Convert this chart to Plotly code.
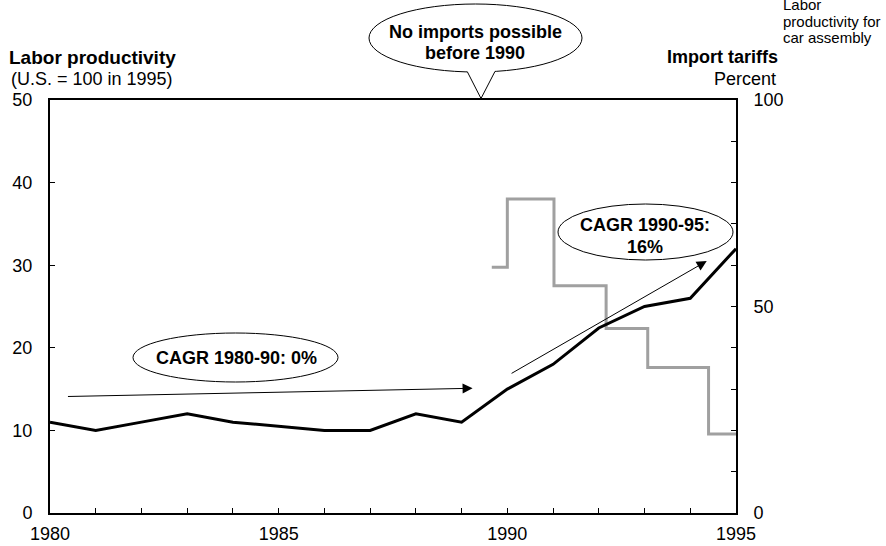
import plotly.graph_objects as go

# ---------------- data ----------------
years = [1980, 1981, 1982, 1983, 1984, 1985, 1986, 1987, 1988, 1989,
         1990, 1991, 1992, 1993, 1994, 1995]
productivity = [11, 10, 11, 12, 11, 10.5, 10, 10, 12, 11,
                15, 18, 22.4, 25, 26, 32]

tariff_dates = [1989.66, 1990.0, 1991.02, 1992.16, 1993.07, 1994.4, 1995.0]
tariff_pct = [59.5, 76, 55, 44.7, 35.2, 19.1, 19.1]

x_tick_years = list(range(1980, 1996))
x_tick_text = [str(y) if y % 5 == 0 else "" for y in x_tick_years]
left_ticks = [0, 10, 20, 30, 40, 50]
right_ticks = list(range(0, 101, 10))
right_tick_text = [str(v) if v % 50 == 0 else "" for v in right_ticks]

# ---------------- layout geometry ----------------
W, H = 886, 546
L, R, T, B = 50, 150, 100, 33
PW, PH = W - L - R, H - T - B
FONT = "Liberation Sans, Arial, sans-serif"


def px(x):
    return (x - L) / PW


def py(y):
    return (H - B - y) / PH


fig = go.Figure()

fig.add_trace(go.Scatter(
    x=tariff_dates, y=tariff_pct, mode="lines", line_shape="hv",
    line=dict(color="#a0a0a0", width=3), yaxis="y", name="Import tariffs",
    showlegend=False, hoverinfo="skip"))

fig.add_trace(go.Scatter(
    x=years, y=productivity, mode="lines",
    line=dict(color="black", width=3), yaxis="y2",
    name="Labor productivity for car assembly",
    showlegend=False, hoverinfo="skip"))

axis_font = dict(family=FONT, size=18, color="black")

fig.update_layout(
    width=W, height=H,
    margin=dict(l=L, r=R, t=T, b=B, autoexpand=False),
    paper_bgcolor="white", plot_bgcolor="white",
    font=axis_font,
    showlegend=False,
    xaxis=dict(range=[1980, 1995], tickvals=x_tick_years, ticktext=x_tick_text,
               ticks="inside", ticklen=5, tickwidth=1, tickcolor="black",
               showline=True, linecolor="black", linewidth=2, mirror=True,
               showgrid=False, zeroline=False, tickfont=axis_font,
               ticklabelstandoff=3, automargin=False),
    yaxis=dict(range=[0, 100], tickvals=right_ticks, ticktext=right_tick_text,
               side="right", ticks="inside", ticklen=5, tickwidth=1,
               tickcolor="black", showline=True, linecolor="black",
               linewidth=2, showgrid=False, zeroline=False,
               tickfont=axis_font, ticklabelstandoff=12, automargin=False),
    yaxis2=dict(range=[0, 50], tickvals=left_ticks, overlaying="y",
                side="left", ticks="inside", ticklen=5, tickwidth=1,
                tickcolor="black", showline=True, linecolor="black",
                linewidth=2, showgrid=False, zeroline=False,
                tickfont=axis_font, ticklabelstandoff=12, automargin=False),
)

shapes = []
# ellipses
for (x0, y0, x1, y1) in [(369, 4, 582, 72), (558, 204, 733, 260), (133, 333, 338, 382)]:
    shapes.append(dict(type="circle", xref="paper", yref="paper",
                       x0=px(x0), x1=px(x1), y0=py(y1), y1=py(y0),
                       line=dict(color="black", width=1), fillcolor="white",
                       layer="above"))

# speech bubble pointer
bl, tip, br = (467.3, 71.7), (481, 98.5), (495, 71.4)
cover = "M {},{} L {},{} L {},{} L {},{} L {},{} Z".format(
    px(bl[0]), py(bl[1]), px(tip[0]), py(tip[1]), px(br[0]), py(br[1]),
    px(br[0]), py(64), px(bl[0]), py(64))
shapes.append(dict(type="path", xref="paper", yref="paper", path=cover,
                   fillcolor="white", line=dict(width=0), layer="above"))
edges = "M {},{} L {},{} L {},{}".format(
    px(bl[0]), py(bl[1]), px(tip[0]), py(tip[1]), px(br[0]), py(br[1]))
shapes.append(dict(type="path", xref="paper", yref="paper", path=edges,
                   line=dict(color="black", width=1), layer="above"))
fig.update_layout(shapes=shapes)

ann = []


def text(x, y, s, size=18, anchor="center", bold=False):
    ann.append(dict(xref="paper", yref="paper", x=px(x), y=py(y),
                    text="<b>%s</b>" % s if bold else s, showarrow=False,
                    xanchor=anchor, yanchor="middle",
                    font=dict(family=FONT, size=size, color="black")))


text(475, 32, "No imports possible", bold=True)
text(475, 53, "before 1990", bold=True)
text(645, 225, "CAGR 1990-95:", bold=True)
text(645, 247, "16%", bold=True)
text(236, 358, "CAGR 1980-90: 0%", bold=True)

text(7, 57, "Labor productivity", size=19, anchor="left", bold=True)
text(9, 79, "(U.S. = 100 in 1995)", anchor="left")
text(780, 57, "Import tariffs", anchor="right", bold=True)
text(778, 79, "Percent", anchor="right")

text(781, 4, "Labor", size=15, anchor="left")
text(781, 21, "productivity for", size=15, anchor="left")
text(781, 38, "car assembly", size=15, anchor="left")

# trend arrows (tail -> head) in data coordinates
for (x0, y0, x1, y1) in [(1980.36, 14.1, 1989.24, 15.1), (1990.06, 16.8, 1994.36, 30.5)]:
    ann.append(dict(xref="x", yref="y2", axref="x", ayref="y2",
                    x=x1, y=y1, ax=x0, ay=y0, text="", showarrow=True,
                    arrowhead=2, arrowsize=2, arrowwidth=1,
                    arrowcolor="black", standoff=0, startstandoff=0))

fig.update_layout(annotations=ann)

fig.write_html("out.html",
               config={"displayModeBar": False},
               post_script="document.body.style.margin='0';"
                           "document.body.style.padding='0';")
